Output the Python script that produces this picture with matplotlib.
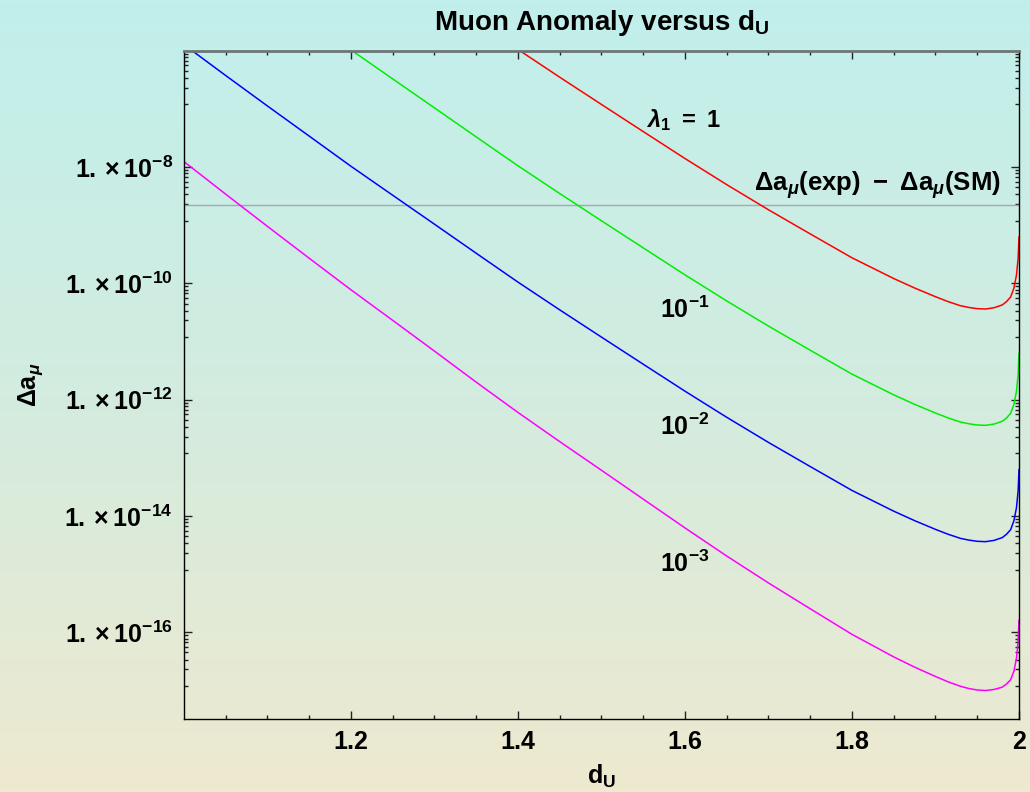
import numpy as np
import matplotlib
matplotlib.use('Agg')
import matplotlib.pyplot as plt
from matplotlib.colors import LinearSegmentedColormap
from matplotlib.ticker import NullFormatter

plt.rcParams['font.family'] = ['Liberation Sans', 'DejaVu Sans']
plt.rcParams['font.weight'] = 'bold'
plt.rcParams['mathtext.fontset'] = 'custom'
plt.rcParams['mathtext.rm'] = 'Liberation Sans'
plt.rcParams['mathtext.bf'] = 'Liberation Sans:bold'
plt.rcParams['mathtext.it'] = 'Liberation Sans:italic'

# valores
d_u = [1.00, 1.05, 1.10, 1.15, 1.20, 1.25, 1.30, 1.35, 1.40, 1.45, 1.50, 1.55,
       1.60, 1.65, 1.70, 1.75, 1.80, 1.85, 1.875, 1.90, 1.915, 1.93, 1.94, 1.95,
       1.96, 1.97, 1.98, 1.985, 1.99, 1.994, 1.997, 1.999, 2.0]

# lambda_1 = 1 (desde d_U = 1.40)
da_red = [1.05e-6, 3.50e-7, 1.19e-7, 4.07e-8, 1.40e-8, 4.98e-9, 1.84e-9, 7.08e-10,
          2.75e-10, 1.21e-10, 8.32e-11, 5.89e-11, 4.86e-11, 4.12e-11, 3.85e-11,
          3.67e-11, 3.62e-11, 3.80e-11, 4.25e-11, 4.84e-11, 5.82e-11, 8.32e-11,
          1.39e-10, 2.73e-10, 6.27e-10]
# lambda_1 = 10^-1 (desde d_U = 1.20)
da_green = [1.03e-6, 3.27e-7, 1.04e-7, 3.29e-8, 1.05e-8, 3.50e-9, 1.19e-9, 4.07e-10,
            1.40e-10, 4.98e-11, 1.84e-11, 7.08e-12, 2.75e-12, 1.21e-12, 8.32e-13,
            5.89e-13, 4.86e-13, 4.12e-13, 3.85e-13, 3.67e-13, 3.62e-13, 3.80e-13,
            4.25e-13, 4.84e-13, 5.82e-13, 8.32e-13, 1.39e-12, 2.73e-12, 6.27e-12]
# lambda_1 = 10^-2
da_blue = [1.27e-6, 3.74e-7, 1.12e-7, 3.40e-8, 1.03e-8, 3.27e-9, 1.04e-9, 3.29e-10,
           1.05e-10, 3.50e-11, 1.19e-11, 4.07e-12, 1.40e-12, 4.98e-13, 1.84e-13,
           7.08e-14, 2.75e-14, 1.21e-14, 8.32e-15, 5.89e-15, 4.86e-15, 4.12e-15,
           3.85e-15, 3.67e-15, 3.62e-15, 3.80e-15, 4.25e-15, 4.84e-15, 5.82e-15,
           8.32e-15, 1.39e-14, 2.73e-14, 6.27e-14]
# lambda_1 = 10^-3
da_magenta = [1.24e-8, 3.41e-9, 9.53e-10, 2.70e-10, 7.74e-11, 2.31e-11, 6.84e-12,
              2.00e-12, 6.03e-13, 1.90e-13, 6.11e-14, 1.95e-14, 6.24e-15, 2.05e-15,
              7.06e-16, 2.54e-16, 9.23e-17, 3.78e-17, 2.52e-17, 1.74e-17, 1.41e-17,
              1.18e-17, 1.08e-17, 1.02e-17, 9.98e-18, 1.04e-17, 1.14e-17, 1.29e-17,
              1.53e-17, 2.16e-17, 3.59e-17, 7.01e-17, 1.61e-16]

da_exp_sm = 2.22e-9

x_ticks = [1.2, 1.4, 1.6, 1.8, 2.0]
x_ticklabels = ['1.2', '1.4', '1.6', '1.8', '2']
y_ticks = [1e-8, 1e-10, 1e-12, 1e-14, 1e-16]
y_ticklabels = [r'$\mathbf{1.\times10^{-8}}$', r'$\mathbf{1.\times10^{-10}}$',
                r'$\mathbf{1.\times10^{-12}}$', r'$\mathbf{1.\times10^{-14}}$',
                r'$\mathbf{1.\times10^{-16}}$']

fig = plt.figure(figsize=(10.3, 7.92), dpi=100)

# fondo degradado
bg = fig.add_axes([0, 0, 1, 1], zorder=0)
cmap = LinearSegmentedColormap.from_list('bg', ['#c1efec', '#d3ecdf', '#eee9cf'])
bg.imshow(np.linspace(0, 1, 256)[:, None], aspect='auto', cmap=cmap, extent=[0, 1, 0, 1])
bg.axis('off')

ax = fig.add_axes([0.1786, 0.0922, 0.8107, 0.8438], zorder=1)
ax.set_facecolor('none')
ax.set_yscale('log')

ax.axhline(da_exp_sm, color='#a8a8a8', lw=1.0)
ax.plot(d_u[-len(da_red):], da_red, color='#ff0000', lw=1.1)
ax.plot(d_u[-len(da_green):], da_green, color='#00ee00', lw=1.1)
ax.plot(d_u, da_blue, color='#0000ff', lw=1.1)
ax.plot(d_u, da_magenta, color='#ff00ff', lw=1.1)

ax.set_xlim(1.0, 2.0)
ax.set_ylim(10 ** -17.49, 1e-6)

ax.set_xticks(x_ticks)
ax.set_xticklabels(x_ticklabels)
ax.set_xticks(np.arange(1.05, 2.0, 0.05), minor=True)
ax.set_yticks(y_ticks)
ax.set_yticklabels(y_ticklabels)
minor_y = [10.0 ** n * f for n in range(-16, -5, 2)
           for f in [0.89, 0.78, 0.67, 0.56, 0.45, 0.34, 0.23, 0.12]]
ax.set_yticks(minor_y, minor=True)
ax.yaxis.set_minor_formatter(NullFormatter())

ax.tick_params(which='both', direction='in', top=True, right=True, width=1,
               labelsize=18, color='#222222')
ax.tick_params(which='major', length=6, pad=8)
ax.tick_params(which='minor', length=3)

for s in ['left', 'bottom', 'right']:
    ax.spines[s].set_color('black')
    ax.spines[s].set_linewidth(1.0)
ax.spines['top'].set_color('#6b7676')
ax.spines['top'].set_linewidth(2.0)

ax.set_title(r'Muon Anomaly versus $\mathbf{d_U}$', fontsize=20, fontweight='bold', pad=15)
ax.set_xlabel(r'$\mathbf{d_U}$', fontsize=18, labelpad=6)
ax.set_ylabel(r'$\mathbf{\Delta a}_{\mu}$', fontsize=18, labelpad=14)

ax.text(1.5976, 10 ** -7.19, r'$\lambda_{\mathbf{1}}\mathbf{\ =\ 1}$', fontsize=17,
        ha='center', va='center')
ax.text(1.8305, 10 ** -8.31, r'$\mathbf{\Delta a}_{\mu}\mathbf{(exp)\ -\ \Delta a}_{\mu}\mathbf{(SM)}$',
        fontsize=18.5, ha='center', va='center')
ax.text(1.6, 10 ** -10.46, r'$\mathbf{10^{-1}}$', fontsize=18, ha='center', va='center')
ax.text(1.6, 10 ** -12.47, r'$\mathbf{10^{-2}}$', fontsize=18, ha='center', va='center')
ax.text(1.6, 10 ** -14.83, r'$\mathbf{10^{-3}}$', fontsize=18, ha='center', va='center')

fig.savefig('out.png', dpi=100)
